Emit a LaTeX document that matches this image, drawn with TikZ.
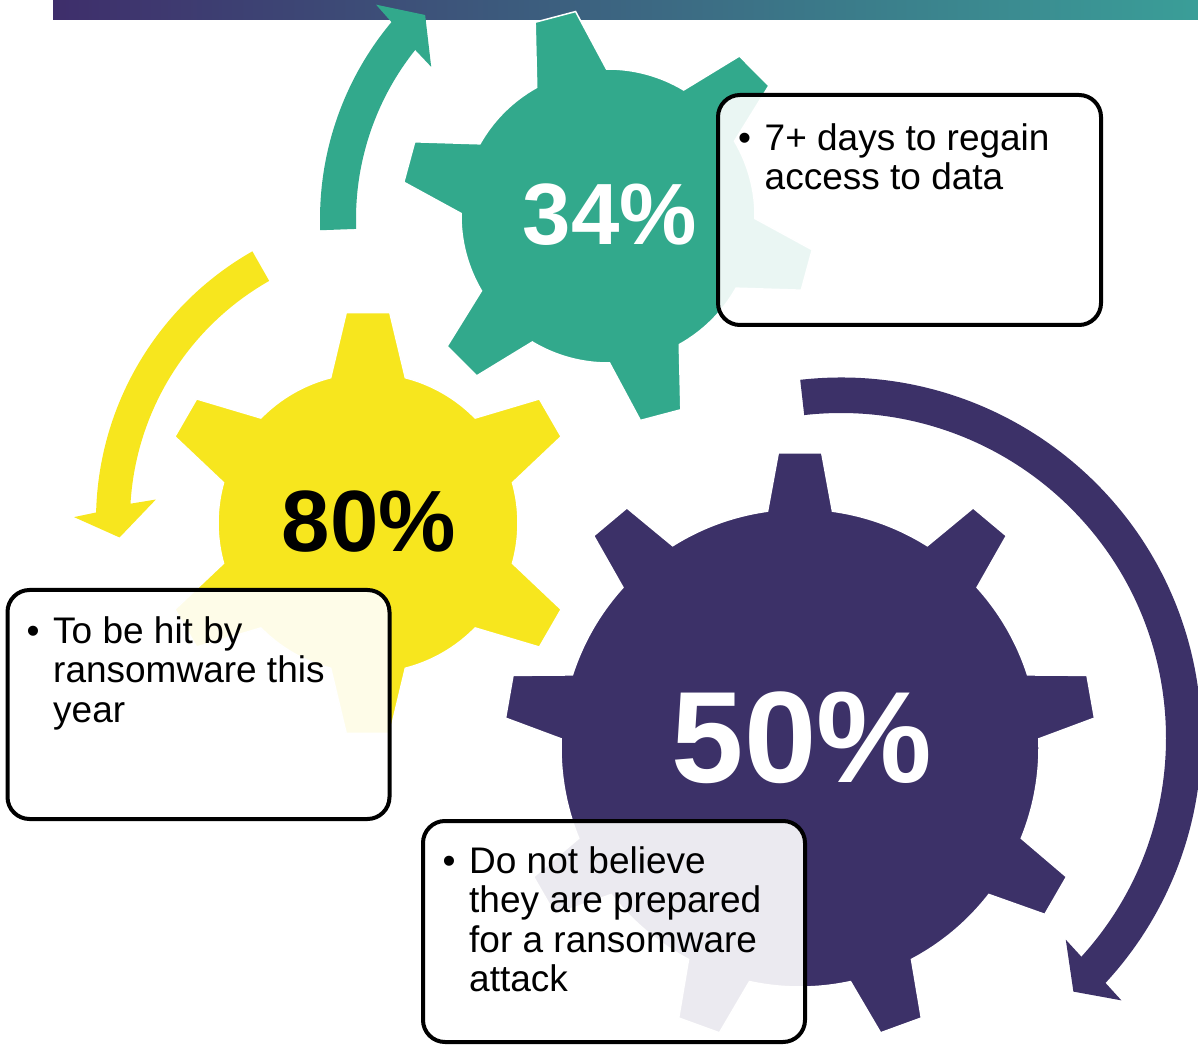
\documentclass[tikz,border=0pt]{standalone}
\usepackage{fontspec}
\setmainfont{Liberation Sans}
\usepackage{xcolor}
\usepackage{tikz}
\usetikzlibrary{positioning}

\definecolor{gearteal}{RGB}{50,169,140}
\definecolor{gearyellow}{RGB}{247,230,30}
\definecolor{gearpurple}{RGB}{60,49,104}
\definecolor{bannerleft}{RGB}{62,46,107}
\definecolor{bannerright}{RGB}{58,158,152}

\newcommand{\bulletlines}[1]{\makebox[26.5pt][l]{\textbullet}\parbox[t]{320pt}{\raggedright #1}}

\begin{document}
\begin{tikzpicture}[x=1pt, y=1pt,
    gear/.style={draw=white, line width=1.5pt},
    infobox/.style={rectangle, draw=black, line width=4pt, rounded corners=22pt, fill=white, fill opacity=0.9, inner sep=0pt},
    infotext/.style={anchor=north west, inner sep=0pt, font=\fontsize{37}{39.5}\selectfont},
    pct/.style={inner sep=0pt, font=\bfseries\fontsize{87}{87}\selectfont}]
    \useasboundingbox (0,0) rectangle (1198,1047);

    % Title bar
    \fill[left color=bannerleft, right color=bannerright] (53,1027) rectangle (1198,1047);

    % Circular arrows
    \fill[gearteal, shift={(627,828)}] (182.1:307) arc[start angle=182.1, end angle=140.1, radius=307]
        -- (139.5:330) -- (134.7:287) -- (142.15:248) -- (141.4:271)
        arc[start angle=141.4, end angle=182.1, radius=271] -- cycle;
    \fill[gearyellow, shift={(405,527)}] (119.6:309) arc[start angle=119.6, end angle=178.6, radius=309]
        -- (179.5:331) -- (183.5:286) -- (175.3:250) -- (176.6:275)
        arc[start angle=176.6, end angle=119.6, radius=275] -- cycle;
    \fill[gearpurple, shift={(841,309)}] (96.5:360.5) arc[start angle=96.5, end angle=-42.8, radius=360.5]
        -- (-43.1:384) -- (-47.5:344) -- (-41.9:302) -- (-42.3:325)
        arc[start angle=-42.3, end angle=96.5, radius=325] -- cycle;

    % Gears
    \filldraw[gear, fill=gearteal, shift={(608,831)}] ({104.8-14.2}:147)
        \foreach \k in {0,...,5} {
            -- ({104.8+60*\k-5.8}:207) -- ({104.8+60*\k+5.8}:207) -- ({104.8+60*\k+14.2}:147)
            arc[start angle={104.8+60*\k+14.2}, end angle={104.8+60*\k+60-14.2}, radius=147]
        } -- cycle;
    \filldraw[gear, fill=gearyellow, shift={(368,524)}] ({90-14.4}:150)
        \foreach \k in {0,...,5} {
            -- ({90+60*\k-5.9}:211.6) -- ({90+60*\k+5.9}:211.6) -- ({90+60*\k+14.4}:150)
            arc[start angle={90+60*\k+14.4}, end angle={90+60*\k+60-14.4}, radius=150]
        } -- cycle;
    \filldraw[gear, fill=gearpurple, shift={(800,299)}] ({90-7.8}:239)
        \foreach \k in {0,...,8} {
            -- ({90+40*\k-4.2}:296) -- ({90+40*\k+4.2}:296) -- ({90+40*\k+7.8}:239)
            arc[start angle={90+40*\k+7.8}, end angle={90+40*\k+40-7.8}, radius=239]
        } -- cycle;

    % Percent labels
    \node[pct, text=white] (tealpct) at (610,832) {34\%};
    \node[pct] (yellowpct) at (369,525) {80\%};
    \node[pct, text=white, font=\bfseries\fontsize{130}{130}\selectfont] (purplepct) at (802,309) {50\%};

    % Text boxes
    \node[infobox, minimum width=383pt, minimum height=230pt] (daysbox) at (909.5,837) {};
    \node[infotext] (daystext) at ([xshift=22pt,yshift=-30pt]daysbox.north west)
        {\bulletlines{7+ days to regain\\access to data}};

    \node[infobox, minimum width=382pt, minimum height=229pt] (hitbox) at (198.5,342.5) {};
    \node[infotext] (hittext) at ([xshift=21pt,yshift=-28pt]hitbox.north west)
        {\bulletlines{To be hit by\\ransomware this\\year}};

    \node[infobox, minimum width=382pt, minimum height=221pt] (prepbox) at (614,115.5) {};
    \node[infotext] (preptext) at ([xshift=21.5pt,yshift=-27pt]prepbox.north west)
        {\bulletlines{Do not believe\\they are prepared\\for a ransomware\\attack}};
\end{tikzpicture}
\end{document}
